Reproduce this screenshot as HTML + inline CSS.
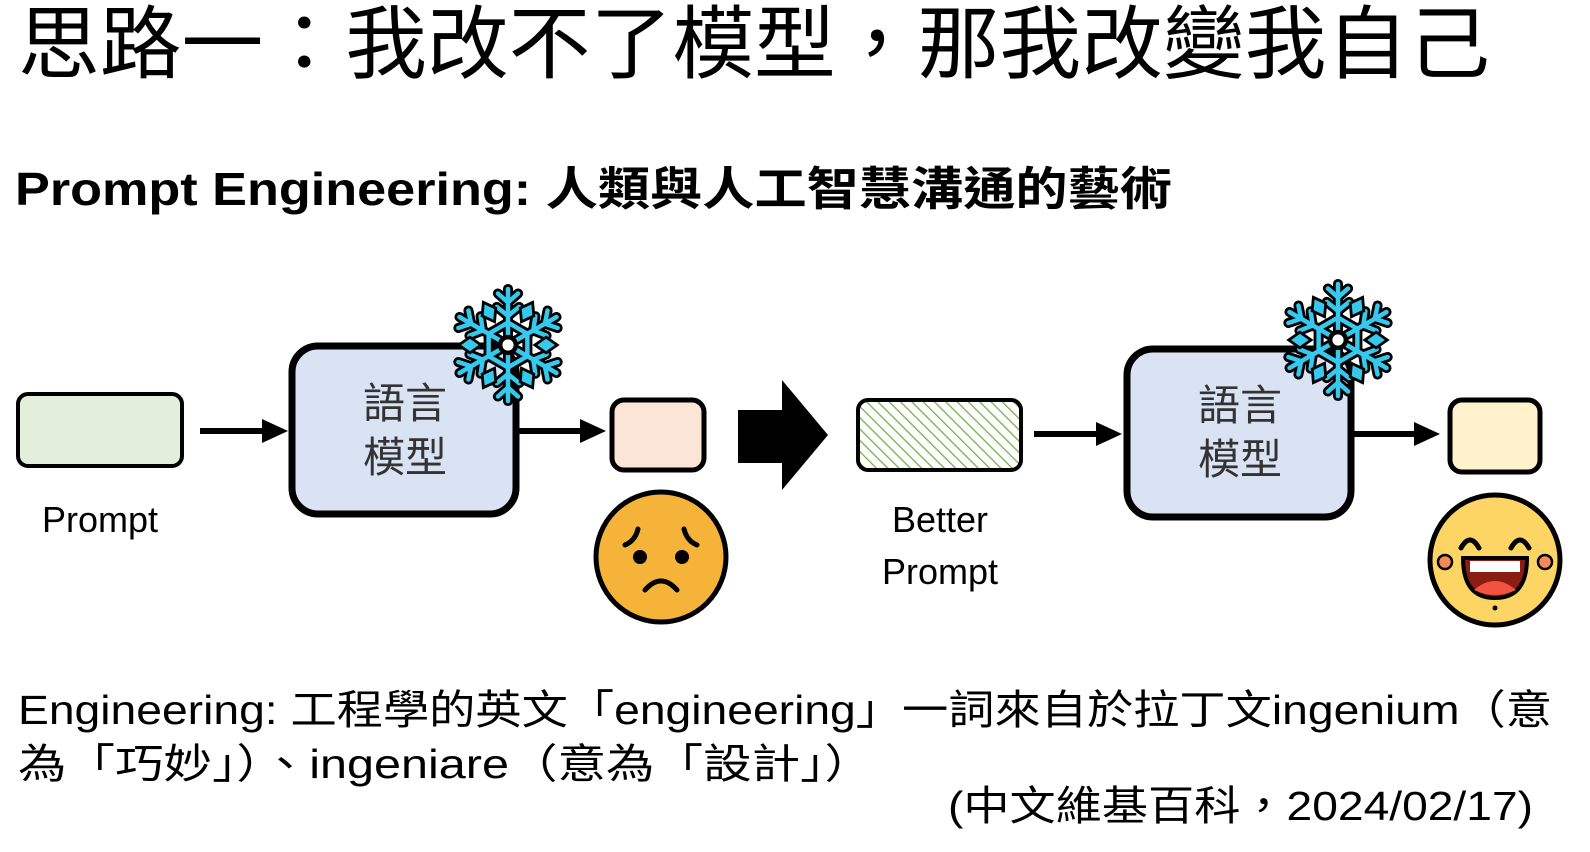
<!DOCTYPE html>
<html><head><meta charset="utf-8"><style>
html,body{margin:0;padding:0;background:#fff;}
svg{display:block;}
text{font-family:"Liberation Sans","Noto Sans CJK TC",sans-serif;}
</style></head><body>
<svg width="1590" height="852" viewBox="0 0 1590 852" xmlns="http://www.w3.org/2000/svg">
<defs>
<pattern id="hatch" width="8" height="8" patternUnits="userSpaceOnUse" patternTransform="rotate(-45)">
<rect width="8" height="8" fill="#fff"/><line x1="0" y1="0" x2="0" y2="8" stroke="#70ad47" stroke-width="2.5"/>
</pattern>
<g id="arm">
<line x1="0" y1="0" x2="0" y2="-50"/>
<polyline points="-9,-46 0,-38 9,-46" fill="none"/>
<polyline points="-10,-34 0,-26 10,-34" fill="none"/>
</g>
<g id="flakeArms">
<use href="#arm"/><use href="#arm" transform="rotate(60)"/><use href="#arm" transform="rotate(120)"/>
<use href="#arm" transform="rotate(180)"/><use href="#arm" transform="rotate(240)"/><use href="#arm" transform="rotate(300)"/>
<polygon points="0,-20 17.3,-10 17.3,10 0,20 -17.3,10 -17.3,-10" fill="none"/>
</g>
<g id="dia">
<polygon points="0,-44 7,-34 0,-24 -7,-34"/>
</g>
<g id="flake">
<g stroke="#000" stroke-width="9" stroke-linecap="round" stroke-linejoin="round"><use href="#flakeArms"/></g>
<g stroke="#37c8ee" stroke-width="4" stroke-linecap="round" stroke-linejoin="round"><use href="#flakeArms"/></g>
<g fill="#37c8ee" stroke="#000" stroke-width="2.5">
<use href="#dia" transform="rotate(30)"/><use href="#dia" transform="rotate(90)"/><use href="#dia" transform="rotate(150)"/>
<use href="#dia" transform="rotate(210)"/><use href="#dia" transform="rotate(270)"/><use href="#dia" transform="rotate(330)"/>
</g>
<circle r="7" fill="#fff" stroke="#000" stroke-width="4"/>
</g>
</defs>

<text x="18" y="72" font-size="80" textLength="1472" lengthAdjust="spacingAndGlyphs" fill="#000">思路一：我改不了模型，那我改變我自己</text>
<text x="15" y="205" font-size="46" font-weight="bold" textLength="1157" lengthAdjust="spacingAndGlyphs" fill="#000">Prompt Engineering: 人類與人工智慧溝通的藝術</text>

<rect x="18" y="394" width="164" height="72" rx="10" fill="#e2efda" stroke="#000" stroke-width="4"/>
<text x="100" y="532" font-size="36" text-anchor="middle">Prompt</text>
<line x1="200" y1="431" x2="265" y2="431" stroke="#000" stroke-width="6"/>
<polygon points="262,419 288,431 262,443" fill="#000"/>
<rect x="292" y="346" width="224" height="168" rx="26" fill="#dae3f3" stroke="#000" stroke-width="7"/>
<text x="405" y="418" font-size="42" text-anchor="middle" fill="#333">語言</text>
<text x="405" y="472" font-size="42" text-anchor="middle" fill="#333">模型</text>
<use href="#flake" transform="translate(508,345) scale(1.12)"/>
<line x1="518" y1="431" x2="584" y2="431" stroke="#000" stroke-width="6"/>
<polygon points="580,419 606,431 580,443" fill="#000"/>
<rect x="612" y="400" width="92" height="70" rx="12" fill="#fbe5d6" stroke="#000" stroke-width="5"/>
<circle cx="661" cy="557" r="65" fill="#f5b33a" stroke="#000" stroke-width="5"/>
<circle cx="640" cy="557" r="7" fill="#000"/><circle cx="682" cy="557" r="7" fill="#000"/>
<path d="M625,545 q10,-4 13,-16 M697,545 q-10,-4 -13,-16" stroke="#000" stroke-width="5" fill="none" stroke-linecap="round"/>
<path d="M645,590 q16,-18 32,0" stroke="#000" stroke-width="5" fill="none" stroke-linecap="round"/>

<polygon points="738,410 782,410 782,380 828,435 782,490 782,463 738,463" fill="#000"/>

<rect x="858" y="400" width="163" height="70" rx="10" fill="url(#hatch)" stroke="#000" stroke-width="4"/>
<text x="940" y="532" font-size="36" text-anchor="middle">Better</text>
<text x="940" y="584" font-size="36" text-anchor="middle">Prompt</text>
<line x1="1034" y1="434" x2="1098" y2="434" stroke="#000" stroke-width="6"/>
<polygon points="1096,422 1122,434 1096,446" fill="#000"/>
<rect x="1127" y="349" width="224" height="168" rx="26" fill="#dae3f3" stroke="#000" stroke-width="7"/>
<text x="1240" y="420" font-size="42" text-anchor="middle" fill="#333">語言</text>
<text x="1240" y="474" font-size="42" text-anchor="middle" fill="#333">模型</text>
<use href="#flake" transform="translate(1338,340) scale(1.12)"/>
<line x1="1353" y1="434" x2="1418" y2="434" stroke="#000" stroke-width="6"/>
<polygon points="1414,422 1440,434 1414,446" fill="#000"/>
<rect x="1450" y="400" width="90" height="72" rx="12" fill="#fff2cc" stroke="#000" stroke-width="5"/>
<circle cx="1495" cy="560" r="65" fill="#fdd565" stroke="#000" stroke-width="5"/>
<circle cx="1445" cy="562" r="7" fill="#f48a5a" stroke="#000" stroke-width="2.5"/>
<circle cx="1545" cy="562" r="7" fill="#f48a5a" stroke="#000" stroke-width="2.5"/>
<path d="M1461,548 q9,-16 18,0 M1511,548 q9,-16 18,0" stroke="#000" stroke-width="5" fill="none" stroke-linecap="round"/>
<path d="M1463,558 L1527,558 Q1527,598 1495,598 Q1463,598 1463,558 Z" fill="#8b1c14" stroke="#000" stroke-width="4"/>
<rect x="1470" y="561" width="50" height="11" fill="#fff"/>
<path d="M1474,590 q21,-18 42,0 q-21,10 -42,0z" fill="#f0533f"/>
<circle cx="1495" cy="608" r="2.5" fill="#000"/>

<text x="18" y="724" font-size="41" textLength="1534" lengthAdjust="spacingAndGlyphs">Engineering: 工程學的英文「engineering」一詞來自於拉丁文ingenium（意</text>
<text x="18" y="778" font-size="41" textLength="855" lengthAdjust="spacingAndGlyphs">為「巧妙」）、ingeniare（意為「設計」）</text>
<text x="948" y="820" font-size="41" textLength="585" lengthAdjust="spacingAndGlyphs">(中文維基百科，2024/02/17)</text>
</svg>
</body></html>
